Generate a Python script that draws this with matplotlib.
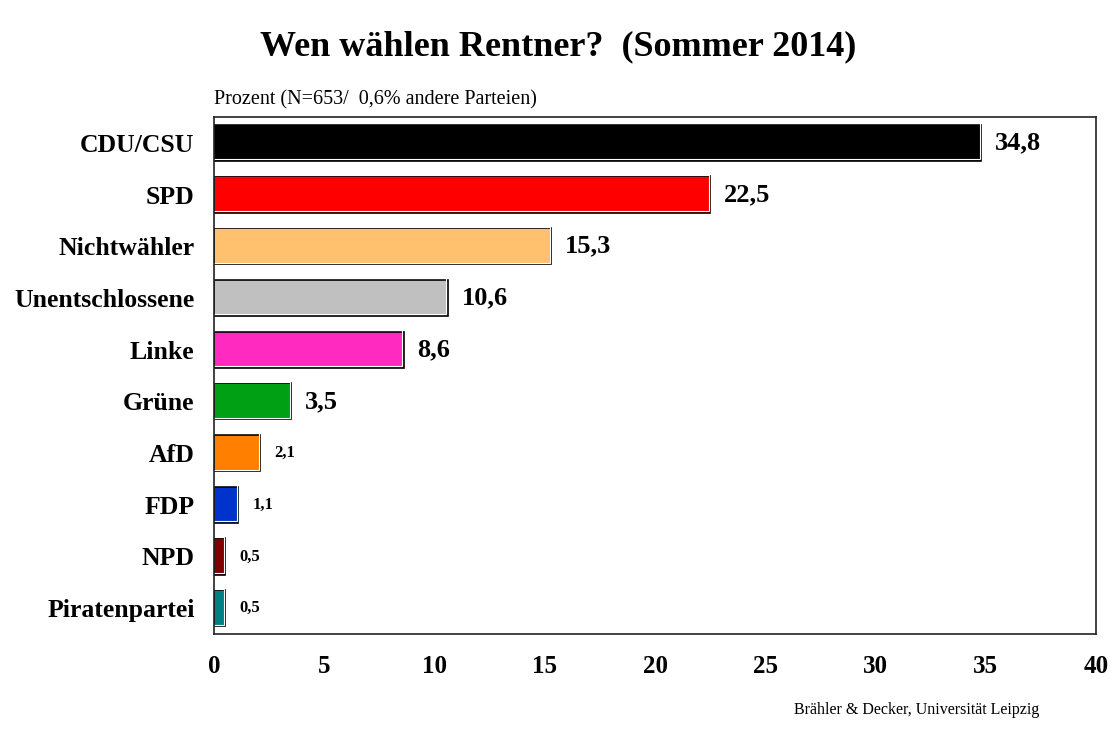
import matplotlib
matplotlib.use("Agg")
from matplotlib import pyplot as plt
from matplotlib import patheffects as pe

parteien = ["CDU/CSU", "SPD", "Nichtwähler", "Unentschlossene", "Linke",
            "Grüne", "AfD", "FDP", "NPD", "Piratenpartei"]
prozent = [34.8, 22.5, 15.3, 10.6, 8.6, 3.5, 2.1, 1.1, 0.5, 0.5]
farben = ["#000000", "#FF0000", "#FFC16E", "#C0C0C0", "#FF2AC0",
          "#00A014", "#FF8000", "#0033CC", "#800000", "#008080"]
x_ticks = [0, 5, 10, 15, 20, 25, 30, 35, 40]

plt.rcParams["font.family"] = ["Liberation Serif", "DejaVu Serif"]

fig = plt.figure(figsize=(11.17, 7.45), dpi=100)
ax = fig.add_axes([0.1916, 0.149, 0.7896, 0.694])

pos = list(range(len(parteien)))
ax.barh(pos, prozent, height=0.7, color=farben, edgecolor="black", linewidth=1.2, zorder=1)
# weisse Innenkante rechts/unten
ax.barh(pos, prozent, height=0.7, facecolor="none", edgecolor="white", linewidth=0.8, zorder=1.5,
        path_effects=[pe.Stroke(offset=(-1.1, 1.1))])

for i, v in enumerate(prozent):
    txt = f"{v:.1f}".replace(".", ",")
    size = 19 if i < 6 else 12
    ax.annotate(txt, (v, i), xytext=(10, 0), textcoords="offset points",
                va="center", ha="left", fontsize=size, fontweight="bold")

ax.set_xlim(0, 40)
ax.set_ylim(9.5, -0.5)
ax.set_xticks(x_ticks)
ax.set_xticklabels([str(t) for t in x_ticks], fontsize=18, fontweight="bold")
ax.set_yticks(pos)
ax.set_yticklabels(parteien, fontsize=18.5, fontweight="bold")
ax.tick_params(axis="both", length=0)
ax.tick_params(axis="x", pad=15)
ax.tick_params(axis="y", pad=14)
for s in ax.spines.values():
    s.set_linewidth(1.2)
    s.set_color("#222222")
    s.set_zorder(3)

fig.text(0.5, 0.937, "Wen wählen Rentner?  (Sommer 2014)", ha="center", va="center",
         fontsize=26, fontweight="bold")
fig.text(0.1916, 0.866, "Prozent (N=653/  0,6% andere Parteien)", ha="left", va="center", fontsize=14.5)
fig.text(0.93, 0.047, "Brähler & Decker, Universität Leipzig", ha="right", va="center", fontsize=11.5)

fig.savefig("out.png", dpi=100)
